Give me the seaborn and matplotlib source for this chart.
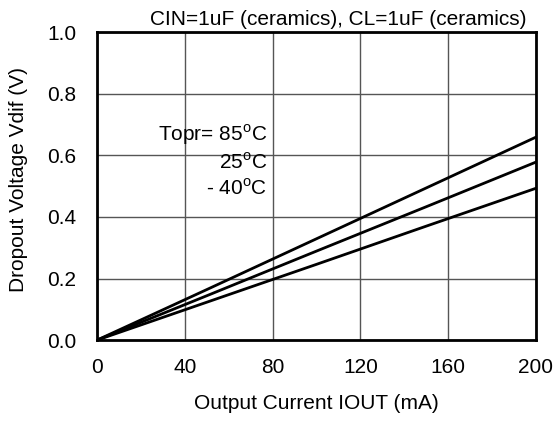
import matplotlib
matplotlib.use("Agg")
import matplotlib.pyplot as plt
import seaborn as sns
import pandas as pd

# Output current (mA) and dropout voltage (V) per temperature
iout = [0, 50, 100, 150, 200]
vdif_85 = [0.0, 0.164, 0.329, 0.494, 0.659]
vdif_25 = [0.0, 0.144, 0.289, 0.433, 0.578]
vdif_m40 = [0.0, 0.123, 0.246, 0.370, 0.493]
temps = ["85", "25", "-40"]

x_ticks = [0, 40, 80, 120, 160, 200]
y_ticks = [0.0, 0.2, 0.4, 0.6, 0.8, 1.0]

sns.set_style("white")
plt.rcParams['font.family'] = ['Liberation Sans', 'DejaVu Sans']
plt.rcParams['mathtext.fontset'] = 'custom'
plt.rcParams['mathtext.rm'] = 'Liberation Sans'
plt.rcParams['text.color'] = 'black'
plt.rcParams['axes.labelcolor'] = 'black'
plt.rcParams['xtick.color'] = 'black'
plt.rcParams['ytick.color'] = 'black'

df = pd.DataFrame({
    'iout': iout * 3,
    'vdif': vdif_85 + vdif_25 + vdif_m40,
    'temp': [temps[0]] * 5 + [temps[1]] * 5 + [temps[2]] * 5,
})

fig = plt.figure(figsize=(5.54, 4.22), dpi=100)
ax = fig.add_axes([0.175, 0.194, 0.7925, 0.730])

sns.lineplot(data=df, x='iout', y='vdif', units='temp', estimator=None,
             color='black', linewidth=2, ax=ax, legend=False)

ax.set_xlim(0, 200)
ax.set_ylim(0, 1.0)
ax.set_xticks(x_ticks)
ax.set_yticks(y_ticks)
ax.set_yticklabels([f'{v:.1f}' for v in y_ticks])
ax.tick_params(labelsize=15, length=0, colors='black')
ax.tick_params(axis='y', pad=15)
ax.tick_params(axis='x', pad=13)
ax.grid(True, color='#555555', linewidth=1)
for s in ax.spines.values():
    s.set_linewidth(2)
    s.set_color('black')
    s.set_visible(True)

ax.set_xlabel('Output Current IOUT (mA)', fontsize=15)
ax.set_ylabel('Dropout Voltage Vdif (V)', fontsize=15)
ax.xaxis.set_label_coords(0.499, -0.175)
ax.yaxis.set_label_coords(-0.157, 0.52)

ax.text(77.5, 0.666, r'Topr= 85$^{\mathrm{o}}$C', ha='right', va='center', fontsize=15)
ax.text(77.5, 0.578, r'25$^{\mathrm{o}}$C', ha='right', va='center', fontsize=15)
ax.text(77.5, 0.493, r'- 40$^{\mathrm{o}}$C', ha='right', va='center', fontsize=15)

fig.text(0.951, 0.953, 'CIN=1uF (ceramics), CL=1uF (ceramics)',
         ha='right', va='center', fontsize=15)

fig.savefig('out.png', dpi=100)
